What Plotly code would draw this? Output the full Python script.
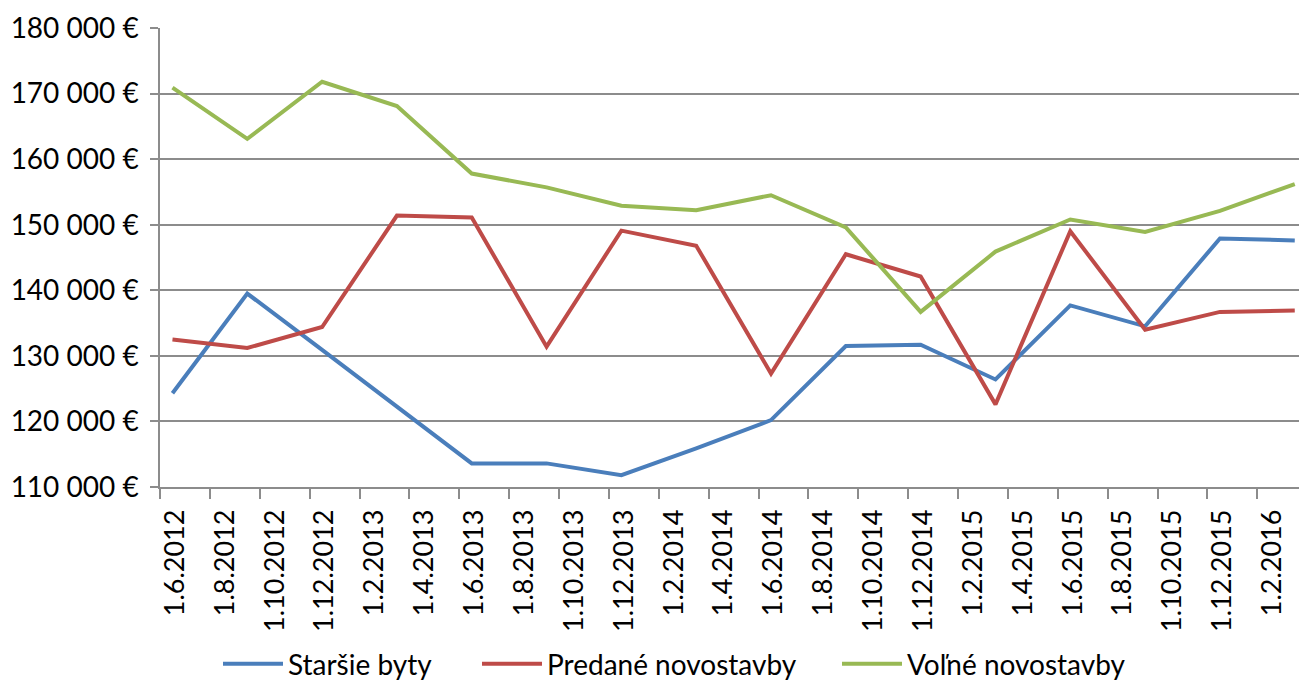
import plotly.graph_objects as go

# Quarterly observation dates (month, year)
dates = ["1.6.2012", "1.9.2012", "1.12.2012", "1.3.2013", "1.6.2013", "1.9.2013",
         "1.12.2013", "1.3.2014", "1.6.2014", "1.9.2014", "1.12.2014", "1.3.2015",
         "1.6.2015", "1.9.2015", "1.12.2015", "1.3.2016"]

starsie_byty = [124300, 139500, 130900, 122200, 113600, 113600, 111800, 115900,
                120200, 131500, 131700, 126400, 137700, 134500, 147900, 147600]
predane_novostavby = [132500, 131200, 134400, 151400, 151100, 131400, 149100, 146800,
                      127300, 145500, 142100, 122600, 149000, 134000, 136700, 136900]
volne_novostavby = [170900, 163100, 171800, 168100, 157800, 155700, 152900, 152200,
                    154500, 149600, 136700, 145900, 150800, 148900, 152100, 156200]

tick_labels = ["1.6.2012", "1.8.2012", "1.10.2012", "1.12.2012", "1.2.2013", "1.4.2013",
               "1.6.2013", "1.8.2013", "1.10.2013", "1.12.2013", "1.2.2014", "1.4.2014",
               "1.6.2014", "1.8.2014", "1.10.2014", "1.12.2014", "1.2.2015", "1.4.2015",
               "1.6.2015", "1.8.2015", "1.10.2015", "1.12.2015", "1.2.2016"]

series_names = ["Staršie byty", "Predané novostavby", "Voľné novostavby"]
series_colors = ["#4A7EBB", "#BE4B48", "#98B954"]


def month_index(s):
    d, m, y = s.split(".")
    return (int(y) - 2012) * 12 + (int(m) - 6)


x = [month_index(s) for s in dates]
tick_pos = [month_index(s) - 0.5 for s in tick_labels]

FONT = "Lato"
GRID = "#8c8c8c"

legend_ids = ["legend", "legend2", "legend3"]
legend_x = [218, 477, 837]

fig = go.Figure()
for name, vals, col, lg in zip(series_names,
                               [starsie_byty, predane_novostavby, volne_novostavby],
                               series_colors, legend_ids):
    fig.add_trace(go.Scatter(x=x, y=vals, name=name, mode="lines", legend=lg,
                             line=dict(color=col, width=4)))

legend_common = dict(orientation="h", xanchor="left", xref="container",
                     yref="container", y=0.032, yanchor="middle",
                     font=dict(family=FONT, size=28, color="#000000"),
                     itemwidth=60, bgcolor="rgba(0,0,0,0)")

fig.update_layout(
    width=1299, height=686,
    margin=dict(l=160, r=0, t=28, b=199),
    paper_bgcolor="white", plot_bgcolor="white",
    separators=", ",
    font=dict(family=FONT, size=28, color="#000000"),
    showlegend=True,
    legend=dict(x=legend_x[0] / 1299, **legend_common),
    legend2=dict(x=legend_x[1] / 1299, **legend_common),
    legend3=dict(x=legend_x[2] / 1299, **legend_common),
)
fig.update_xaxes(
    range=[-0.5, 45.17], tickmode="array", tickvals=tick_pos, ticktext=tick_labels,
    tickangle=-90, ticklabelshift=15, ticks="outside", ticklen=10, tickwidth=1.5,
    tickcolor=GRID, showgrid=False, zeroline=False, showline=True,
    linecolor=GRID, linewidth=1.5, tickfont=dict(family=FONT, size=27),
)
fig.update_yaxes(
    range=[110000, 180000], dtick=10000, tick0=110000, tickformat=",.0f",
    ticksuffix=" €", ticks="outside", ticklen=8, tickwidth=1.5, tickcolor=GRID,
    ticklabelstandoff=6,
    showgrid=True, gridcolor=GRID, gridwidth=1.5, zeroline=False,
    showline=True, linecolor=GRID, linewidth=1.5,
    tickfont=dict(family=FONT, size=28),
)

fig.write_html("out.html")
